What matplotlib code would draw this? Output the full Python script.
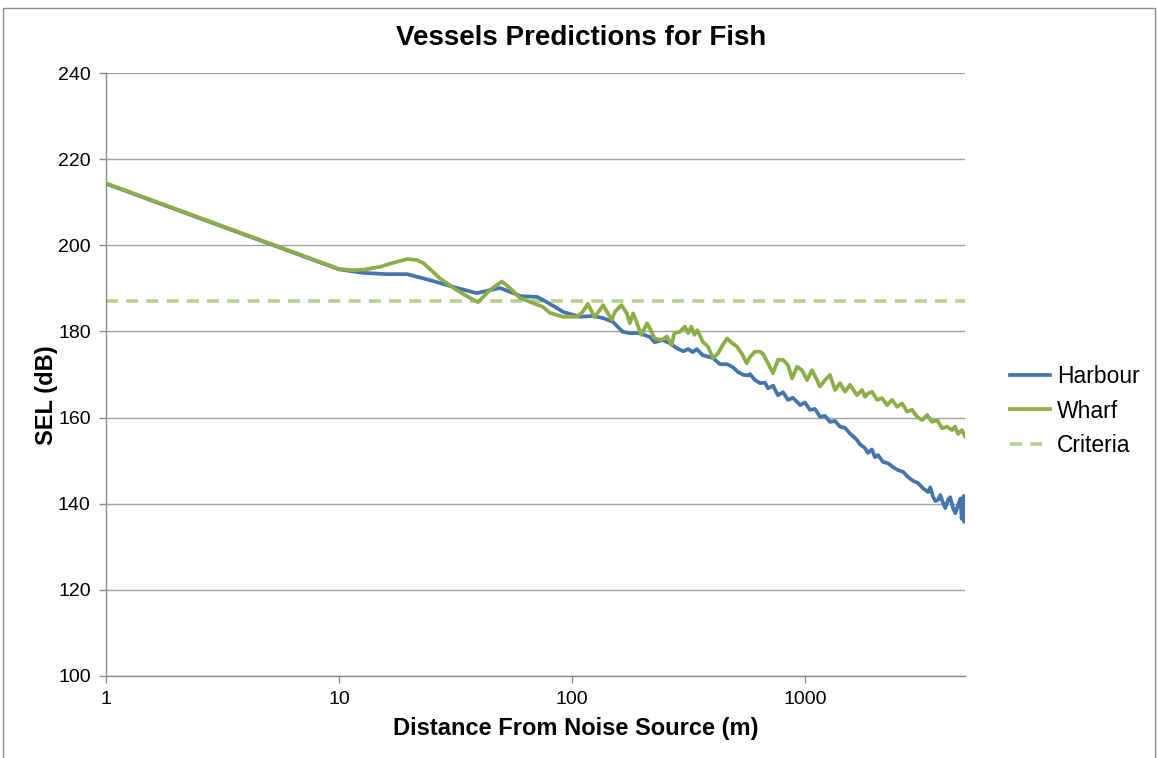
import matplotlib
matplotlib.use("Agg")
import matplotlib.pyplot as plt
from matplotlib.patches import Rectangle
from matplotlib.ticker import FixedLocator, NullLocator, FixedFormatter

plt.rcParams['font.family'] = ['Liberation Sans', 'DejaVu Sans']

# Harbour vessel SEL (dB) against distance (m)
harbour_dist = [1, 2, 3, 5, 7, 10, 12.7, 16, 19.6, 24.6, 32, 39, 43, 49, 56, 60, 71, 78, 92,
                108, 123, 136, 150, 165, 177, 195, 216, 226, 245, 262, 282, 300, 315, 330, 343,
                364, 403, 431, 463, 490, 515, 545, 570, 581, 610, 641, 673, 694, 729, 765, 805,
                845, 887, 953, 1000, 1050, 1104, 1159, 1218, 1280, 1345, 1413, 1485, 1560, 1671,
                1722, 1810, 1862, 1939, 1995, 2056, 2161, 2270, 2386, 2507, 2635, 2769, 2910,
                3058, 3207, 3373, 3450, 3543, 3630, 3724, 3810, 3911, 4000, 4111, 4200, 4316,
                4420, 4537, 4650, 4700, 4767, 4800, 4830, 4860]
harbour_sel = [214.3, 208.3, 204.8, 200.4, 197.5, 194.4, 193.6, 193.3, 193.3, 191.9, 190.1,
               188.9, 189.4, 190.1, 188.9, 188.2, 188.0, 186.8, 184.5, 183.4, 183.6, 183.1,
               182.2, 179.9, 179.6, 179.6, 178.7, 177.5, 178.0, 177.3, 176.1, 175.4, 175.9,
               175.2, 175.9, 174.5, 173.8, 172.4, 172.4, 171.7, 170.6, 169.9, 169.8, 170.1,
               168.7, 168.0, 168.1, 166.8, 167.4, 165.2, 165.9, 164.1, 164.6, 162.9, 163.5,
               161.8, 162.0, 160.2, 160.4, 159.0, 159.2, 157.9, 157.6, 156.3, 154.8, 153.8,
               152.9, 151.8, 152.6, 150.8, 151.3, 149.7, 149.4, 148.5, 147.8, 147.4, 146.2,
               145.3, 144.8, 143.6, 142.7, 143.8, 141.6, 140.6, 140.9, 142.0, 140.2, 139.0,
               140.9, 141.5, 139.0, 137.8, 139.7, 141.2, 136.5, 138.1, 141.8, 135.8, 139.5]

# Wharf vessel SEL (dB) against distance (m)
wharf_dist = [1, 2, 3, 5, 7, 10, 11.5, 13, 15, 17, 19.6, 21.5, 23, 27, 32, 36.4, 39.5, 44.4,
              50, 54.3, 59.7, 67.9, 75, 80.4, 91.6, 105, 111, 117, 125, 136, 148, 153, 163,
              172, 177, 183, 189, 198, 210, 216, 226, 242, 255, 268, 275, 290, 305, 315, 325,
              335, 345, 364, 383, 403, 423, 444, 463, 486, 510, 535, 562, 581, 610, 641, 660,
              694, 729, 765, 805, 845, 880, 924, 971, 1020, 1071, 1127, 1159, 1218, 1280,
              1345, 1413, 1485, 1560, 1671, 1757, 1810, 1862, 1939, 2037, 2140, 2249, 2363,
              2483, 2609, 2741, 2880, 3027, 3180, 3342, 3511, 3689, 3876, 4068, 4276, 4406,
              4537, 4720, 4860]
wharf_sel = [214.4, 208.4, 204.9, 200.5, 197.6, 194.5, 194.2, 194.4, 195.0, 195.9, 196.8,
             196.6, 195.9, 192.4, 189.6, 187.8, 186.8, 189.6, 191.6, 190.0, 187.8, 186.6,
             185.7, 184.3, 183.4, 183.4, 184.5, 186.4, 183.3, 186.1, 182.7, 184.6, 186.1,
             184.2, 181.9, 184.2, 182.3, 179.2, 181.9, 180.7, 178.4, 178.0, 178.8, 176.9,
             179.6, 179.9, 181.1, 179.6, 181.1, 179.2, 180.3, 177.6, 176.5, 173.8, 174.9,
             176.9, 178.4, 177.3, 176.5, 174.9, 172.6, 174.1, 175.3, 175.3, 174.8, 172.6,
             170.3, 173.4, 173.4, 172.2, 169.1, 171.8, 171.0, 168.7, 171.0, 168.7, 167.2,
             168.7, 169.9, 166.4, 168.0, 166.0, 167.6, 165.2, 166.4, 164.8, 165.6, 166.0,
             164.1, 164.5, 162.9, 164.1, 162.5, 163.3, 161.4, 161.8, 160.2, 159.4, 160.6,
             159.0, 159.4, 157.5, 157.9, 157.1, 157.9, 156.2, 157.1, 155.6]

criteria = 187

x_ticks = [1, 10, 100, 1000]
x_labels = ['1', '10', '100', '1000']
y_ticks = [100, 120, 140, 160, 180, 200, 220, 240]

fig = plt.figure(figsize=(11.58, 7.58), dpi=100)
ax = fig.add_axes([106 / 1158, 82 / 758, 859 / 1158, 603 / 758])

ax.plot(harbour_dist, harbour_sel, color='#4675AE', lw=2.7, label='Harbour', zorder=3,
        solid_joinstyle='round')
ax.plot(wharf_dist, wharf_sel, color='#8CAD47', lw=2.7, label='Wharf', zorder=4,
        solid_joinstyle='round')
ax.axhline(criteria, color='#B8CF90', lw=2.6, ls=(0, (3.3, 2.3)), label='Criteria', zorder=2)

ax.set_xscale('log')
ax.set_xlim(1, 4860)
ax.set_ylim(100, 240)
ax.xaxis.set_major_locator(FixedLocator(x_ticks))
ax.xaxis.set_major_formatter(FixedFormatter(x_labels))
ax.xaxis.set_minor_locator(NullLocator())
ax.set_yticks(y_ticks)

ax.grid(axis='y', color='#A0A0A0', lw=1)
ax.set_axisbelow(True)
for s in ['top', 'right']:
    ax.spines[s].set_visible(False)
for s in ['left', 'bottom']:
    ax.spines[s].set_color('#8C8C8C')
    ax.spines[s].set_linewidth(1)
ax.tick_params(axis='both', direction='out', length=5, width=1, color='#8C8C8C',
               labelsize=14, pad=6)

fig.text(0.502, 0.950, 'Vessels Predictions for Fish', ha='center', va='center',
         fontsize=20, fontweight='bold')
fig.text(0.497, 0.039, 'Distance From Noise Source (m)', ha='center', va='center',
         fontsize=17, fontweight='bold')
fig.text(0.040, 0.479, 'SEL (dB)', ha='center', va='center', rotation=90,
         fontsize=17, fontweight='bold')

fig.legend(loc='center left', bbox_to_anchor=(1010 / 1158, 1 - 411 / 758), frameon=False,
           fontsize=16.5, handlelength=1.75, handletextpad=0.3, labelspacing=0.52,
           borderpad=0, borderaxespad=0)

# outer chart frame
fig.patches.append(Rectangle((3 / 1158, -0.02), 1152 / 1158, 1.0 - 8 / 758 + 0.02,
                             transform=fig.transFigure, fill=False, ec='#8C8C8C', lw=1))

fig.savefig('out.png', dpi=100)
